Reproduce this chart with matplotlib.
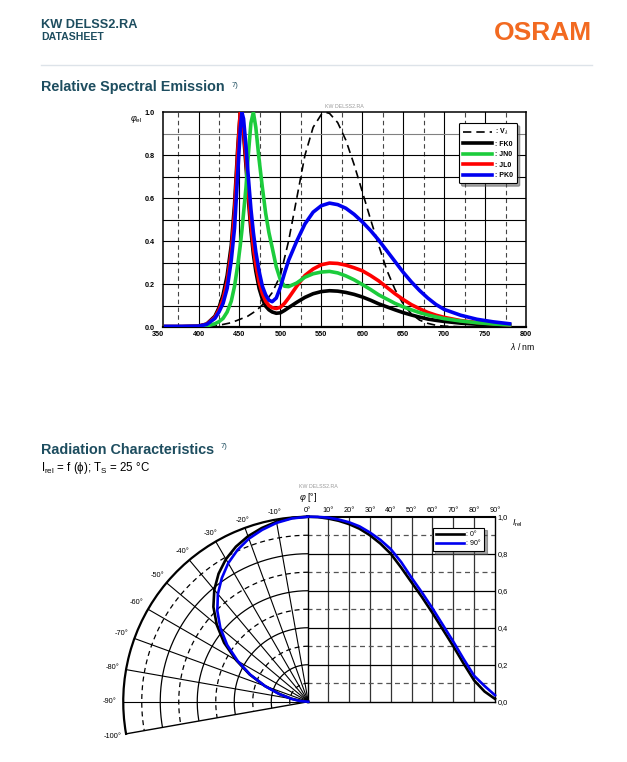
import numpy as np
import matplotlib
matplotlib.use('Agg')
import matplotlib.pyplot as plt
from matplotlib.lines import Line2D
from matplotlib import transforms as mtrans

plt.rcParams['font.family'] = ['Liberation Sans', 'DejaVu Sans']
plt.rcParams['mathtext.fontset'] = 'custom'
plt.rcParams['mathtext.rm'] = 'Liberation Sans'
plt.rcParams['mathtext.it'] = 'Liberation Sans:italic'
plt.rcParams['mathtext.bf'] = 'Liberation Sans:bold'

# ---------------- data: relative spectral emission ----------------
wavelength = [360, 380, 400, 410, 420, 425, 430, 435, 440, 444, 448, 451, 453, 455, 458,
              461, 464, 467, 470, 474, 478, 482, 486, 490, 495, 500, 505, 510, 520, 530,
              540, 550, 560, 570, 580, 590, 600, 610, 620, 630, 640, 650, 660, 670, 680,
              690, 700, 720, 740, 760, 780]
fk0 = [0.002, 0.002, 0.004, 0.014, 0.05, 0.09, 0.15, 0.24, 0.38, 0.57, 0.84, 1.0, 0.97, 0.9, 0.75,
       0.59, 0.45, 0.34, 0.26, 0.18, 0.13, 0.097, 0.08, 0.07, 0.064, 0.066, 0.077, 0.09, 0.115, 0.138,
       0.155, 0.165, 0.169, 0.167, 0.161, 0.152, 0.14, 0.125, 0.108, 0.094, 0.08, 0.067, 0.056, 0.046, 0.037,
       0.031, 0.026, 0.018, 0.013, 0.009, 0.006]
jn0 = [0.001, 0.001, 0.002, 0.005, 0.015, 0.025, 0.04, 0.07, 0.12, 0.19, 0.29, 0.38, 0.45, 0.53, 0.65,
       0.81, 0.95, 1.0, 0.93, 0.78, 0.65, 0.53, 0.44, 0.37, 0.28, 0.22, 0.19, 0.188, 0.205, 0.232,
       0.248, 0.256, 0.259, 0.252, 0.238, 0.22, 0.198, 0.175, 0.15, 0.13, 0.11, 0.094, 0.08, 0.067, 0.056,
       0.047, 0.039, 0.028, 0.02, 0.014, 0.01]
jl0 = [0.002, 0.002, 0.004, 0.013, 0.045, 0.08, 0.13, 0.21, 0.35, 0.53, 0.82, 1.0, 0.98, 0.92, 0.78,
       0.62, 0.48, 0.37, 0.29, 0.21, 0.155, 0.12, 0.1, 0.09, 0.086, 0.092, 0.11, 0.135, 0.19, 0.24,
       0.27, 0.29, 0.298, 0.296, 0.288, 0.276, 0.262, 0.24, 0.215, 0.185, 0.155, 0.128, 0.104, 0.085, 0.068,
       0.055, 0.045, 0.03, 0.021, 0.015, 0.01]
pk0 = [0.003, 0.003, 0.004, 0.012, 0.04, 0.07, 0.11, 0.18, 0.31, 0.46, 0.72, 0.92, 1.0, 0.97, 0.84,
       0.69, 0.55, 0.44, 0.35, 0.26, 0.19, 0.15, 0.125, 0.118, 0.135, 0.185, 0.25, 0.31, 0.40, 0.48,
       0.535, 0.565, 0.577, 0.57, 0.553, 0.525, 0.49, 0.45, 0.405, 0.355, 0.305, 0.255, 0.21, 0.17, 0.135,
       0.105, 0.082, 0.055, 0.036, 0.024, 0.015]
wavelength_v = [380, 400, 420, 440, 460, 470, 480, 490, 500, 510, 520, 530, 540, 550, 555, 560,
                570, 580, 590, 600, 610, 620, 630, 640, 650, 660, 670, 680, 690, 700, 720]
v_lambda = [0.0, 0.0004, 0.004, 0.02, 0.05, 0.075, 0.11, 0.16, 0.24, 0.40, 0.60, 0.80, 0.93, 0.99, 1.0, 0.995,
            0.952, 0.87, 0.757, 0.631, 0.503, 0.381, 0.265, 0.175, 0.107, 0.061, 0.032, 0.017, 0.008, 0.004, 0.001]
spec_labels = [': V$_\\lambda$', ': FK0', ': JN0', ': JL0', ': PK0']
x_ticks_spec = [350, 400, 450, 500, 550, 600, 650, 700, 750, 800]
y_ticks_spec = [0.0, 0.2, 0.4, 0.6, 0.8, 1.0]

# ---------------- data: radiation characteristics ----------------
angles_pos = [0, 5, 10, 15, 20, 25, 30, 35, 40, 45, 50, 55, 60, 65, 70, 75, 80, 85, 90]
irel_0_pos = [1.0, 0.998, 0.99, 0.978, 0.96, 0.935, 0.90, 0.855, 0.80, 0.725, 0.645, 0.565, 0.48,
              0.39, 0.30, 0.205, 0.115, 0.055, 0.015]
irel_90_pos = [1.0, 0.999, 0.995, 0.985, 0.97, 0.948, 0.915, 0.875, 0.825, 0.755, 0.67, 0.59, 0.505,
               0.415, 0.325, 0.23, 0.14, 0.085, 0.035]
angles_neg = [0, -5, -10, -15, -20, -25, -30, -35, -40, -45, -50, -55, -60, -65, -70, -75, -80, -85, -90]
irel_0_neg = [1.0, 0.997, 0.988, 0.972, 0.952, 0.925, 0.89, 0.845, 0.79, 0.725, 0.645, 0.555, 0.45,
              0.35, 0.25, 0.16, 0.09, 0.04, 0.0]
irel_90_neg = [1.0, 0.995, 0.982, 0.962, 0.938, 0.905, 0.865, 0.815, 0.76, 0.695, 0.62, 0.535, 0.44,
               0.345, 0.25, 0.165, 0.095, 0.045, 0.0]
rad_labels = [': 0°', ': 90°']
cart_angle_ticks = [0, 10, 20, 30, 40, 50, 60, 70, 80, 90]
polar_angle_ticks = [-10, -20, -30, -40, -50, -60, -70, -80, -90, -100]
irel_ticks = [0.0, 0.2, 0.4, 0.6, 0.8, 1.0]

# ---------------- figure ----------------
W, H = 627, 762
fig = plt.figure(figsize=(W / 100, H / 100), dpi=100)


def fx(x):
    return x / W


def fy(y):
    return 1 - y / H


def rect(l, t, r, b):
    return [l / W, 1 - b / H, (r - l) / W, (b - t) / H]


TEAL = '#1d4d5f'
ORANGE = '#f26a21'
BLUE = '#0000f0'
RED = '#ff0000'
GREEN = '#1ccc3c'

# header
fig.text(fx(41), fy(27.5), 'KW DELSS2.RA', fontsize=9.2, fontweight='bold', color=TEAL, va='baseline')
fig.text(fx(41), fy(39.5), 'DATASHEET', fontsize=7.6, fontweight='bold', color=TEAL, va='baseline')
fig.text(fx(592), fy(39.5), 'OSRAM', fontsize=19, fontweight='bold', color=ORANGE, ha='right', va='baseline')
fig.add_artist(Line2D([fx(41), fx(592)], [fy(65), fy(65)], color='#dde3e9', lw=1.0))

fig.text(fx(41), fy(90.5), 'Relative Spectral Emission', fontsize=10.4, fontweight='bold', color=TEAL,
         va='baseline')
fig.text(fx(232), fy(87), '7)', fontsize=5.5, color=TEAL, va='baseline')

# ---------------- spectral chart ----------------
ax = fig.add_axes(rect(163.3, 112.3, 526, 327))
ax.set_xlim(357, 800)
ax.set_ylim(0, 1)
for x in range(400, 800, 50):
    ax.axvline(x, color='black', lw=0.8, zorder=1)
for x in range(375, 800, 50):
    ax.axvline(x, color='#444444', lw=0.8, ls=(0, (4, 3)), zorder=1)
for i in range(1, 10):
    ax.axhline(i / 10, color='#808080' if i == 9 else 'black', lw=0.8, zorder=1)

lv, = ax.plot(wavelength_v, v_lambda, color='black', lw=1.2, ls=(0, (5, 3)), zorder=3)
lk, = ax.plot(wavelength, fk0, color='black', lw=2.6, zorder=4)
lr, = ax.plot(wavelength, jl0, color=RED, lw=2.6, zorder=5)
lg, = ax.plot(wavelength, jn0, color=GREEN, lw=2.6, zorder=6)
lb, = ax.plot(wavelength, pk0, color=BLUE, lw=2.6, zorder=7)

for s in ax.spines.values():
    s.set_linewidth(1.1)
ax.spines['bottom'].set_linewidth(1.6)

ax.set_xticks(x_ticks_spec[1:])
ax.set_xticklabels([str(v) for v in x_ticks_spec[1:]])
ax.set_yticks(y_ticks_spec)
ax.set_yticklabels(['%.1f' % v for v in y_ticks_spec])
ax.tick_params(length=0, labelsize=5.2)
ax.tick_params(axis='x', pad=3)
ax.tick_params(axis='y', pad=6)
for t in ax.get_xticklabels() + ax.get_yticklabels():
    t.set_fontweight('bold')
off = mtrans.offset_copy(ax.get_xaxis_transform(), fig=fig, x=0, y=-3, units='points')
ax.text(x_ticks_spec[0], 0, str(x_ticks_spec[0]), transform=off, ha='center', va='top',
        fontsize=5.2, fontweight='bold', clip_on=False)

leg = ax.legend([lv, lk, lg, lr, lb], spec_labels, loc='upper right',
                bbox_to_anchor=(fx(517), fy(123)), bbox_transform=fig.transFigure,
                borderaxespad=0, fontsize=5, handlelength=4.2, handletextpad=0.4,
                labelspacing=0.5, borderpad=0.6, fancybox=True, shadow=True,
                framealpha=1, edgecolor='black')
leg.get_frame().set_linewidth(0.8)
for t in leg.get_texts():
    t.set_fontweight('bold')

fig.text(fx(130), fy(121), r'$\varphi_{\rm el}$', fontsize=6.5, va='baseline')
fig.text(fx(535), fy(347), r'$\lambda$ / nm', fontsize=6.2, ha='right', va='center')
fig.text(fx(344), fy(107), 'KW DELSS2.RA', fontsize=3.8, color='#9a9a9a', ha='center', va='center')

# ---------------- radiation characteristics ----------------
fig.text(fx(41), fy(453.5), 'Radiation Characteristics', fontsize=10.4, fontweight='bold', color=TEAL,
         va='baseline')
fig.text(fx(221), fy(448.5), '7)', fontsize=5.5, color=TEAL, va='baseline')
fig.text(fx(41), fy(471.5), r'I$_{\rm rel}$ = f (ϕ); T$_{\rm S}$ = 25 °C', fontsize=8.3, va='baseline')
fig.text(fx(318), fy(486), 'KW DELSS2.RA', fontsize=3.8, color='#9a9a9a', ha='center', va='center')
fig.text(fx(308), fy(497.5), r'$\varphi$ [°]', fontsize=6.5, ha='center', va='center')

CX, CY, R = 307.3, 701.7, 185.0

# cartesian part
axr = fig.add_axes(rect(CX, CY - R, 495, CY))
axr.set_xlim(0, 90)
axr.set_ylim(0, 1)
for a in range(10, 90, 10):
    axr.axvline(a, color='#333333', lw=0.9, zorder=1)
for i in range(1, 10):
    if i % 2 == 0:
        axr.axhline(i / 10, color='black', lw=0.9, zorder=1)
    else:
        axr.axhline(i / 10, color='#555555', lw=0.9, ls=(0, (4, 3)), zorder=1)
c0, = axr.plot(angles_pos, irel_0_pos, color='black', lw=1.9, zorder=4, clip_on=False)
c90, = axr.plot(angles_pos, irel_90_pos, color=BLUE, lw=1.9, zorder=5, clip_on=False)
axr.xaxis.tick_top()
axr.yaxis.tick_right()
axr.set_xticks(cart_angle_ticks)
axr.set_xticklabels(['%d°' % a for a in cart_angle_ticks])
axr.set_yticks(irel_ticks)
axr.set_yticklabels([('%.1f' % v).replace('.', ',') for v in irel_ticks])
axr.tick_params(length=0, labelsize=5.3, pad=2)
for s in axr.spines.values():
    s.set_linewidth(1.0)
axr.spines['top'].set_linewidth(1.5)
leg2 = axr.legend([c0, c90], rad_labels, loc='upper right',
                  bbox_to_anchor=(fx(484), fy(527.7)), bbox_transform=fig.transFigure,
                  borderaxespad=0, fontsize=5, handlelength=4.0, handletextpad=0.3,
                  labelspacing=0.3, borderpad=0.5, fancybox=False, shadow=True,
                  framealpha=1, edgecolor='black')
leg2.get_frame().set_linewidth(0.8)
fig.text(fx(512), fy(523.5), r'$I_{\rm rel}$', fontsize=6.2, ha='left', va='center')

# polar part
side = 1.1736 * R
pcx = CX - 0.5 * R
pcy = CY - 0.413 * R
axp = fig.add_axes(rect(pcx - side / 2, pcy - side / 2, pcx + side / 2, pcy + side / 2), projection='polar')
axp.set_theta_zero_location('N')
axp.set_theta_direction(1)
axp.set_thetamin(0)
axp.set_thetamax(100)
axp.set_rlim(0, 1)
axp.set_xticks([])
axp.set_yticks([])
axp.grid(False)
axp.spines['polar'].set_linewidth(1.6)
axp.spines['start'].set_linewidth(1.0)
axp.spines['end'].set_linewidth(1.0)
axp.spines['inner'].set_visible(False)
th = np.deg2rad(np.linspace(0, 100, 300))
for i in range(1, 10):
    if i % 2 == 0:
        axp.plot(th, np.full_like(th, i / 10), color='black', lw=0.9, zorder=1)
    else:
        axp.plot(th, np.full_like(th, i / 10), color='black', lw=0.9, ls=(0, (4, 3)), zorder=1)
for a in range(10, 100, 10):
    axp.plot([np.deg2rad(a)] * 2, [0, 1], color='black', lw=0.8, zorder=1)
axp.plot(np.deg2rad(-np.array(angles_neg)), irel_0_neg, color='black', lw=1.9, zorder=4, clip_on=False)
axp.plot(np.deg2rad(-np.array(angles_neg)), irel_90_neg, color=BLUE, lw=1.9, zorder=5, clip_on=False)
for a in polar_angle_ticks:
    ang = np.deg2rad(-a)
    axp.text(ang, 1.03 + 0.045 * np.sin(ang), '%d°' % a, ha='center', va='center',
             fontsize=5.3, clip_on=False)

fig.savefig('out.png', dpi=100)
